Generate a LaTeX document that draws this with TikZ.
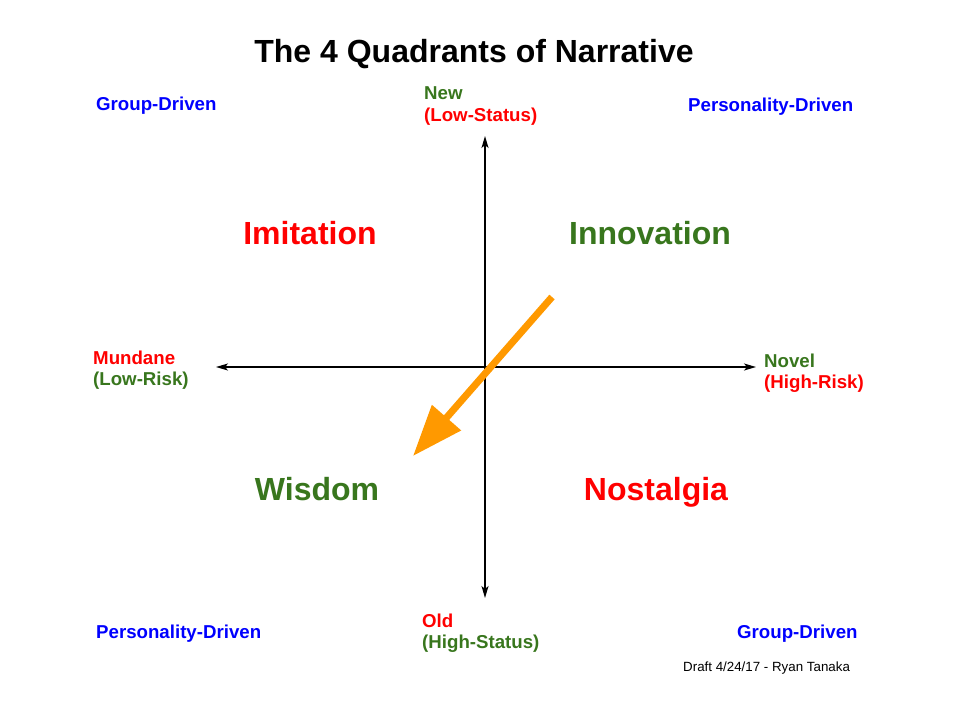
\documentclass[tikz,border=0pt]{standalone}
\usepackage{fontspec}
\setmainfont{Liberation Sans}
\usetikzlibrary{arrows.meta}
\definecolor{dgreen}{HTML}{38761D}
\definecolor{qorange}{HTML}{FF9900}

\begin{document}
\begin{tikzpicture}[x=1pt,y=-1pt,
    every node/.style={inner sep=0pt,text depth=0pt},
    corner/.style={anchor=west,blue,font=\fontsize{18.67}{21}\selectfont\bfseries},
    ends/.style={anchor=west,align=left,font=\fontsize{18.67}{21.5}\selectfont\bfseries},
    quad/.style={font=\fontsize{32}{38}\selectfont\bfseries},
    axis/.style={line width=1.4pt,{Stealth[length=12pt,width=7pt,inset=3pt]}-{Stealth[length=12pt,width=7pt,inset=3pt]}}]
      \useasboundingbox (0,0) rectangle (960,720);
      % title
      \node[font=\fontsize{32}{38}\selectfont\bfseries] (title) at (474,51) {The 4 Quadrants of Narrative};
      % corners
      \node[corner] (cTL) at (96,104) {Group-Driven};
      \node[corner] (cTR) at (688,105) {Personality-Driven};
      \node[corner] (cBL) at (96,632) {Personality-Driven};
      \node[corner] (cBR) at (737,632) {Group-Driven};
      % axis ends
      \node[ends] (eTop) at (424,104) {\textcolor{dgreen}{New}\\\textcolor{red}{(Low-Status)}};
      \node[ends] (eBot) at (422,631) {\textcolor{red}{Old}\\\textcolor{dgreen}{(High-Status)}};
      \node[ends] (eLeft) at (93,368) {\textcolor{red}{Mundane}\\\textcolor{dgreen}{(Low-Risk)}};
      \node[ends] (eRight) at (764,371) {\textcolor{dgreen}{Novel}\\\textcolor{red}{(High-Risk)}};
      % quadrants
      \node[quad,red] (qImit) at (310,233) {Imitation};
      \node[quad,dgreen] (qInno) at (650,233) {Innovation};
      \node[quad,dgreen] (qWisd) at (317,489) {Wisdom};
      \node[quad,red] (qNost) at (656,489) {Nostalgia};
      % axes
      \coordinate (aTop) at (485,136);
      \coordinate (aBot) at (485,598);
      \coordinate (aLeft) at (216,367);
      \coordinate (aRight) at (756,367);
      \draw[axis] (aTop) -- (aBot);
      \draw[axis] (aLeft) -- (aRight);
      % orange arrow
      \coordinate (pStart) at (552,297);
      \coordinate (pTip) at (413,456);
      \draw[qorange,line width=7pt,-{Triangle[length=51pt,width=37pt]}] (pStart) -- (pTip);
      % draft note
      \node[anchor=west,font=\fontsize{13.33}{16}\selectfont] (draft) at (683,667) {Draft 4/24/17 - Ryan Tanaka};
    \end{tikzpicture}
\end{document}
